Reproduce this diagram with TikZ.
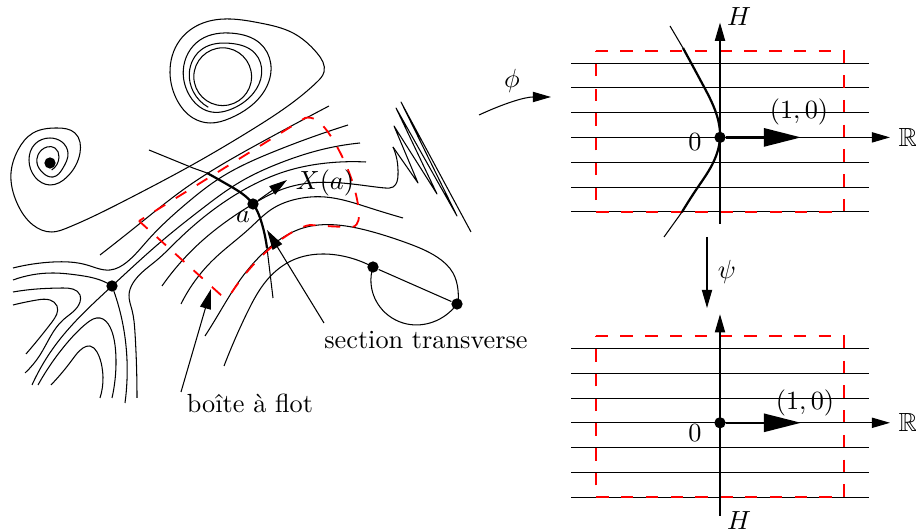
\documentclass[tikz,border=0pt]{standalone}
\usepackage{amssymb}
\usetikzlibrary{arrows.meta,hobby}
\tikzset{
  flow/.style={line width=0.4pt,line join=round,use Hobby shortcut},
  thickcurve/.style={line width=0.85pt,use Hobby shortcut},
  redbox/.style={red,line width=0.7pt,dash pattern=on 4.72pt off 4.72pt},
  dot/.style={circle,fill=black,inner sep=0pt,minimum size=4.3pt},
  tipa/.style={-{Stealth[length=6.9pt,width=3.9pt,inset=0pt]},line width=0.4pt},
  tipb/.style={-{Stealth[length=7.6pt,width=4.2pt,inset=0pt]},line width=0.4pt},
  tipbig/.style={-{Stealth[length=14.1pt,width=6.9pt,inset=0pt]},line width=0.85pt},
}
\begin{document}
\begin{tikzpicture}[x=0.381pt,y=-0.381pt]
\useasboundingbox (0,0) rectangle (916,532);

% left spiral + line + big orbit outer + rings
\draw[flow] (51.7,170)..(59,157)..(55,148)..(47,147)..(38,155)..(37,163)..(43,173)..(53,177)..(63,168)..(68,153)..(62,142)..(50,138)..(35,144)..(29,160)..(35,177)..(50,185)..(67,177)..(80,153)..(75,133)..(57,128)..(33,133)..(18,150)..(11,173)..(17,203)..(33,225)..(52,232)..(67,228)..(130,198)..(192,165)..(253,129)..(317,82)..(324,72)..(317,53)..(293,33)..(260,23)..(230,19)..(203,23)..(180,40)..(170,73)..(177,100)..(193,118)..(210,123)..(230,118.3)..(250,106.7)..(266.7,86.7)..(270.7,63.3)..(260,43.3)..(233.3,33.3)..(200,40)..(183.3,70)..(188.3,93.3)..(210,111.7)..(233.3,108.3)..(253.3,93.3)..(261.7,73.3)..(255,53.3)..(230,43.3)..(203.3,48.3)..(189.3,73.3)..(193.3,91.7)..(208.3,107.3);
\node[circle,draw,line width=0.4pt,inner sep=0pt,minimum size=22pt] (ring) at (222.7,76.7) {};

% flow lines
\draw[flow] (100,255)..(138,225)..(187,187)..(260,143)..(329,106);
\draw[flow] (13,268)..(53,262)..(87,265)..(110,270)..(127,262)..(148,240)..(187,203)..(220,178)..(273,152)..(348,125);
\draw[flow] (32,385)..(57,343)..(112,286)..(163,240)..(203,208)..(240,182)..(280,163)..(320,150)..(360,143);
\draw[flow] (137,398)..(135,333)..(132,310)..(129,295)..(133,283)..(157,260)..(178,240)..(213,210)..(240,192)..(290,170)..(327,163)..(366,162);
\draw[flow] (13,280)..(53,273)..(77,275)..(107,283)..(112,286);
\draw[flow] (112,286)..(122,320)..(127,360)..(125,403);
\draw[flow] (13,292)..(37,289)..(63,288)..(80,295)..(80,302)..(63,320)..(40,355)..(25,373);
\draw[flow] (13,305)..(37,300)..(50,300)..(57,306)..(52,322)..(26,354);
\draw[flow] (38,385)..(67,343)..(87,323)..(100,318)..(110,327)..(115,345)..(116,360)..(112,398);
\draw[flow] (51,385)..(72,360)..(83,348)..(90,346)..(97,352)..(102,367)..(103,377)..(100,398);
% line through a with wiggle
\draw[flow] (162,286)..(203,240)..(253,204)..(283,189)..(310,183)..(368,186)..(385,188)..(393,187)..(398,175)..(397,160)..(393,147);
\draw[line width=0.4pt,line join=round] (393,147) -- (418,183) -- (394,126) -- (437,194) -- (396,108) -- (457,216) -- (401,102) -- (471,232);
\draw[flow] (181,304)..(213,260)..(250,228)..(272,209)..(297,199)..(325,197)..(370,208)..(403,218);
\draw[flow] (205,336)..(215,320)..(240,280)..(270,247)..(303,228)..(337,225)..(373,232)..(407,243)..(437,257)..(453,273)..(458,290)..(458,303);
\draw[flow] (224,366)..(247,313)..(267,280)..(293,260)..(323,254)..(347,257)..(373,267);

% transverse section
\draw[line width=0.4pt] (149,150) -- (193,168) -- (207,173);
\draw[thickcurve] (207,173)..(230,186)..(253,204)..(262,224)..(267,248);
\draw[line width=0.4pt] (267,248) -- (273,298);

% saddles and points
\node[dot] (a) at (253,204) {};
\node[dot] (s1) at (112,286) {};
\node[dot] (s2) at (373,267) {};
\node[dot] (s3) at (457,304) {};
\node[dot] (foc) at (50,163) {};
\draw[line width=0.4pt] (s2) -- (s3);
\draw[flow] (373,267)..(371,283)..(380,307)..(407,324)..(433,322)..(457,304);

% flow box
\draw[redbox,dash phase=2.4pt] (139,221) -- (305,118) .. controls (312,116) and (320,120) .. (330,135)
  .. controls (345,158) and (358,190) .. (359,215) .. controls (359,224) and (355,227) .. (352,227)
  .. controls (340,227) and (325,226) .. (310,225) .. controls (295,227) and (260,250) .. (232,292)
  .. controls (228,298) and (225,298) .. (222,296) -- cycle;

% arrows and labels of the left part
\coordinate (xa) at (287,180);
\draw[tipa] (a) -- (xa);
\node[inner sep=0pt] (xalab) at (325,183) {$X(a)$};
\node[inner sep=0pt] (alab) at (243,217) {$a$};
\node[inner sep=0pt] (sect) at (426,340) {section transverse};
\node[inner sep=0pt] (boite) at (250,403) {boîte à flot};
\coordinate (sectS) at (324,323);
\coordinate (sectT) at (267,230);
\coordinate (boiS) at (181,392);
\coordinate (boiT) at (211,289);
\draw[tipb] (sectS) -- (sectT);
\draw[tipb] (boiS) -- (boiT);

% phi
\coordinate (phiS) at (479,115);
\coordinate (phiT) at (551,97);
\draw[tipa] (phiS) .. controls (505,103) and (525,97) .. (phiT);
\node[inner sep=0pt] (philab) at (512,81) {$\phi$};
% psi
\coordinate (psiS) at (707,237);
\coordinate (psiT) at (707,308);
\draw[tipa] (psiS) -- (psiT);
\node[inner sep=0pt] (psilab) at (727,272) {$\psi$};

% upper panel
\foreach \y in {63.3,87.8,112.6,137.4,162.2,187.3,211.8}
  \draw[line width=0.4pt] (571,\y) -- (869,\y);
\draw[redbox] (595.7,50.6) -- (843.7,50.6) -- (843.7,211.8) -- (595.7,211.8) -- cycle;
\coordinate (uT) at (720,22.7);
\coordinate (uB) at (720,224);
\coordinate (uL) at (571,137.4);
\coordinate (uR) at (890,137.4);
\draw[tipa] (uB) -- (uT);
\draw[tipa] (uL) -- (uR);
\draw[line width=0.4pt] (670,26) -- (683,48);
\draw[thickcurve] (683,48)..(703,85)..(715,110)..(720,137.4)..(712,165)..(698,187)..(682,212);
\draw[line width=0.4pt] (682,212) -- (664,237);
\node[dot] (o1) at (720,137.4) {};
\coordinate (v1) at (801,137.4);
\draw[tipbig] (o1) -- (v1);
\node[inner sep=0pt] (H1) at (739,17) {$H$};
\node[inner sep=0pt] (R1) at (908,137) {$\mathbb{R}$};
\node[inner sep=0pt] (z1) at (695,142) {$0$};
\node[inner sep=0pt] (c1) at (799,112) {$(1,0)$};

% lower panel
\foreach \y in {348.4,373.2,398.3,422.8,447.6,472.4,497.2}
  \draw[line width=0.4pt] (571,\y) -- (869,\y);
\draw[redbox] (595.7,336) -- (843.7,336) -- (843.7,497.2) -- (595.7,497.2) -- cycle;
\coordinate (lT) at (720,314.3);
\coordinate (lB) at (720,516);
\coordinate (lL) at (571,422.8);
\coordinate (lR) at (890,422.8);
\draw[tipa] (lB) -- (lT);
\draw[tipa] (lL) -- (lR);
\coordinate (lT2) at (720,330);
\coordinate (lB2) at (720,497.2);
\draw[line width=0.85pt] (lB2) -- (lT2);
\node[dot] (o2) at (720,422.8) {};
\coordinate (v2) at (801,422.8);
\draw[tipbig] (o2) -- (v2);
\node[inner sep=0pt] (H2) at (739,521) {$H$};
\node[inner sep=0pt] (R2) at (908,422) {$\mathbb{R}$};
\node[inner sep=0pt] (z2) at (695,433) {$0$};
\node[inner sep=0pt] (c2) at (805,403) {$(1,0)$};
\end{tikzpicture}
\end{document}
